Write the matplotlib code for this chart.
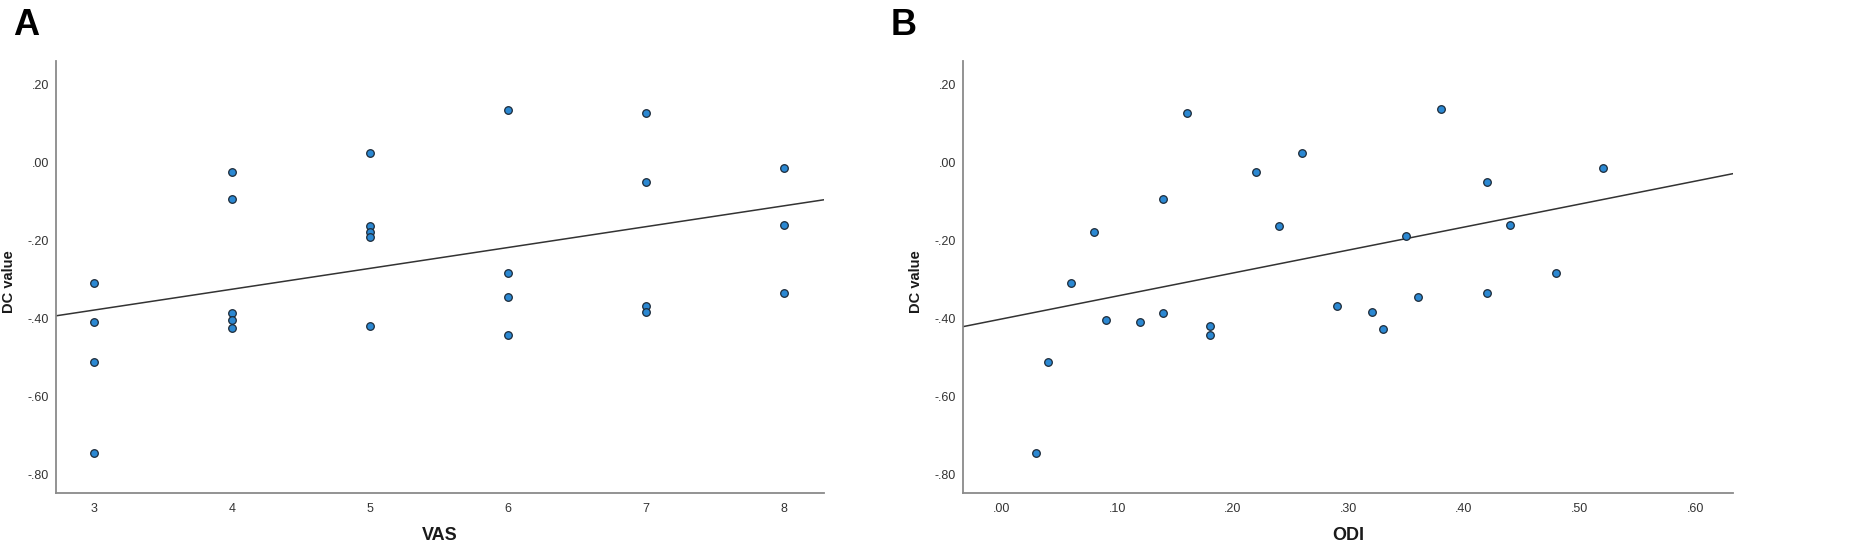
import matplotlib
matplotlib.use('Agg')
import matplotlib.pyplot as plt
import numpy as np

# DC value against VAS (panel A) and ODI (panel B)
vas = [3, 3, 3, 3,
       4, 4, 4, 4, 4,
       5, 5, 5, 5, 5,
       6, 6, 6, 6,
       7, 7, 7, 7,
       8, 8, 8]
dcA = [-0.310, -0.410, -0.511, -0.745,
       -0.025, -0.094, -0.386, -0.404, -0.425,
       0.025, -0.163, -0.177, -0.190, -0.418,
       0.134, -0.284, -0.345, -0.443,
       0.126, -0.051, -0.369, -0.382,
       -0.015, -0.160, -0.335]

odi = [0.03, 0.04, 0.06, 0.08, 0.09, 0.12, 0.14, 0.14, 0.16, 0.18, 0.18, 0.22, 0.24,
       0.26, 0.29, 0.32, 0.33, 0.35, 0.36, 0.38, 0.42, 0.42, 0.44, 0.48, 0.52]
dcB = [-0.745, -0.511, -0.310, -0.178, -0.404, -0.410, -0.093, -0.386, 0.128, -0.418,
       -0.443, -0.025, -0.162, 0.025, -0.369, -0.382, -0.426, -0.189, -0.344, 0.136,
       -0.050, -0.335, -0.160, -0.283, -0.014]

yticks = [0.2, 0.0, -0.2, -0.4, -0.6, -0.8]
vasTicks = [3, 4, 5, 6, 7, 8]
odiTicks = [0.0, 0.1, 0.2, 0.3, 0.4, 0.5, 0.6]

narrow = ['Liberation Sans Narrow', 'Liberation Sans', 'DejaVu Sans']
normal = ['Liberation Sans', 'DejaVu Sans']

def fmt(v):
    s = '%.2f' % v
    s = s.replace('0.', '.')
    if s == '-.00':
        s = '.00'
    return s

fig = plt.figure(figsize=(18.51, 5.54), dpi=100)
axA = fig.add_axes([56/1851, 61/554, 768/1851, 432/554])
axB = fig.add_axes([963/1851, 61/554, 770/1851, 432/554])

panels = [(axA, vas, dcA, (2.727, 8.287), vasTicks, 'VAS', False),
          (axB, odi, dcB, (-0.0334, 0.6327), odiTicks, 'ODI', True)]

for ax, xs, ys, xl, xt, xlab, isFrac in panels:
    ax.set_xlim(xl)
    ax.set_ylim(-0.847, 0.26)
    # linear fit line across the whole x range
    k, b = np.polyfit(xs, ys, 1)
    lx = np.array(xl)
    ax.plot(lx, k*lx + b, color='#333333', lw=1.1, zorder=2)
    ax.scatter(xs, ys, s=30, facecolor='#2b88d2', edgecolor='#1c2a38', linewidth=0.9, zorder=3)

    for sp in ['top', 'right']:
        ax.spines[sp].set_visible(False)
    for sp in ['left', 'bottom']:
        ax.spines[sp].set_color('#8a8a8a')
        ax.spines[sp].set_linewidth(1.3)

    ax.set_yticks(yticks)
    ax.set_yticklabels([fmt(v) for v in yticks], family=narrow, fontsize=9, color='#333333')
    ax.set_xticks(xt)
    if isFrac:
        ax.set_xticklabels([fmt(v) for v in xt], family=narrow, fontsize=9, color='#333333')
    else:
        ax.set_xticklabels([str(v) for v in xt], family=narrow, fontsize=9, color='#333333')
    ax.tick_params(axis='y', length=0, pad=5)
    ax.tick_params(axis='x', length=0, pad=7)

    ax.set_xlabel(xlab, family=narrow, fontsize=13, fontweight='bold', color='#1a1a1a')
    ax.xaxis.set_label_coords(0.5, -0.078)
    ax.set_ylabel('DC value', family=normal, fontsize=10.5, fontweight='bold', color='#1a1a1a')
    ax.yaxis.set_label_coords(-0.052, 0.49)

fig.text(13/1851, 1 - 8/554, 'A', family=normal, fontsize=26, fontweight='bold', va='top', ha='left')
fig.text(891/1851, 1 - 8/554, 'B', family=normal, fontsize=26, fontweight='bold', va='top', ha='left')

fig.savefig('out.png', dpi=100, facecolor='white')
